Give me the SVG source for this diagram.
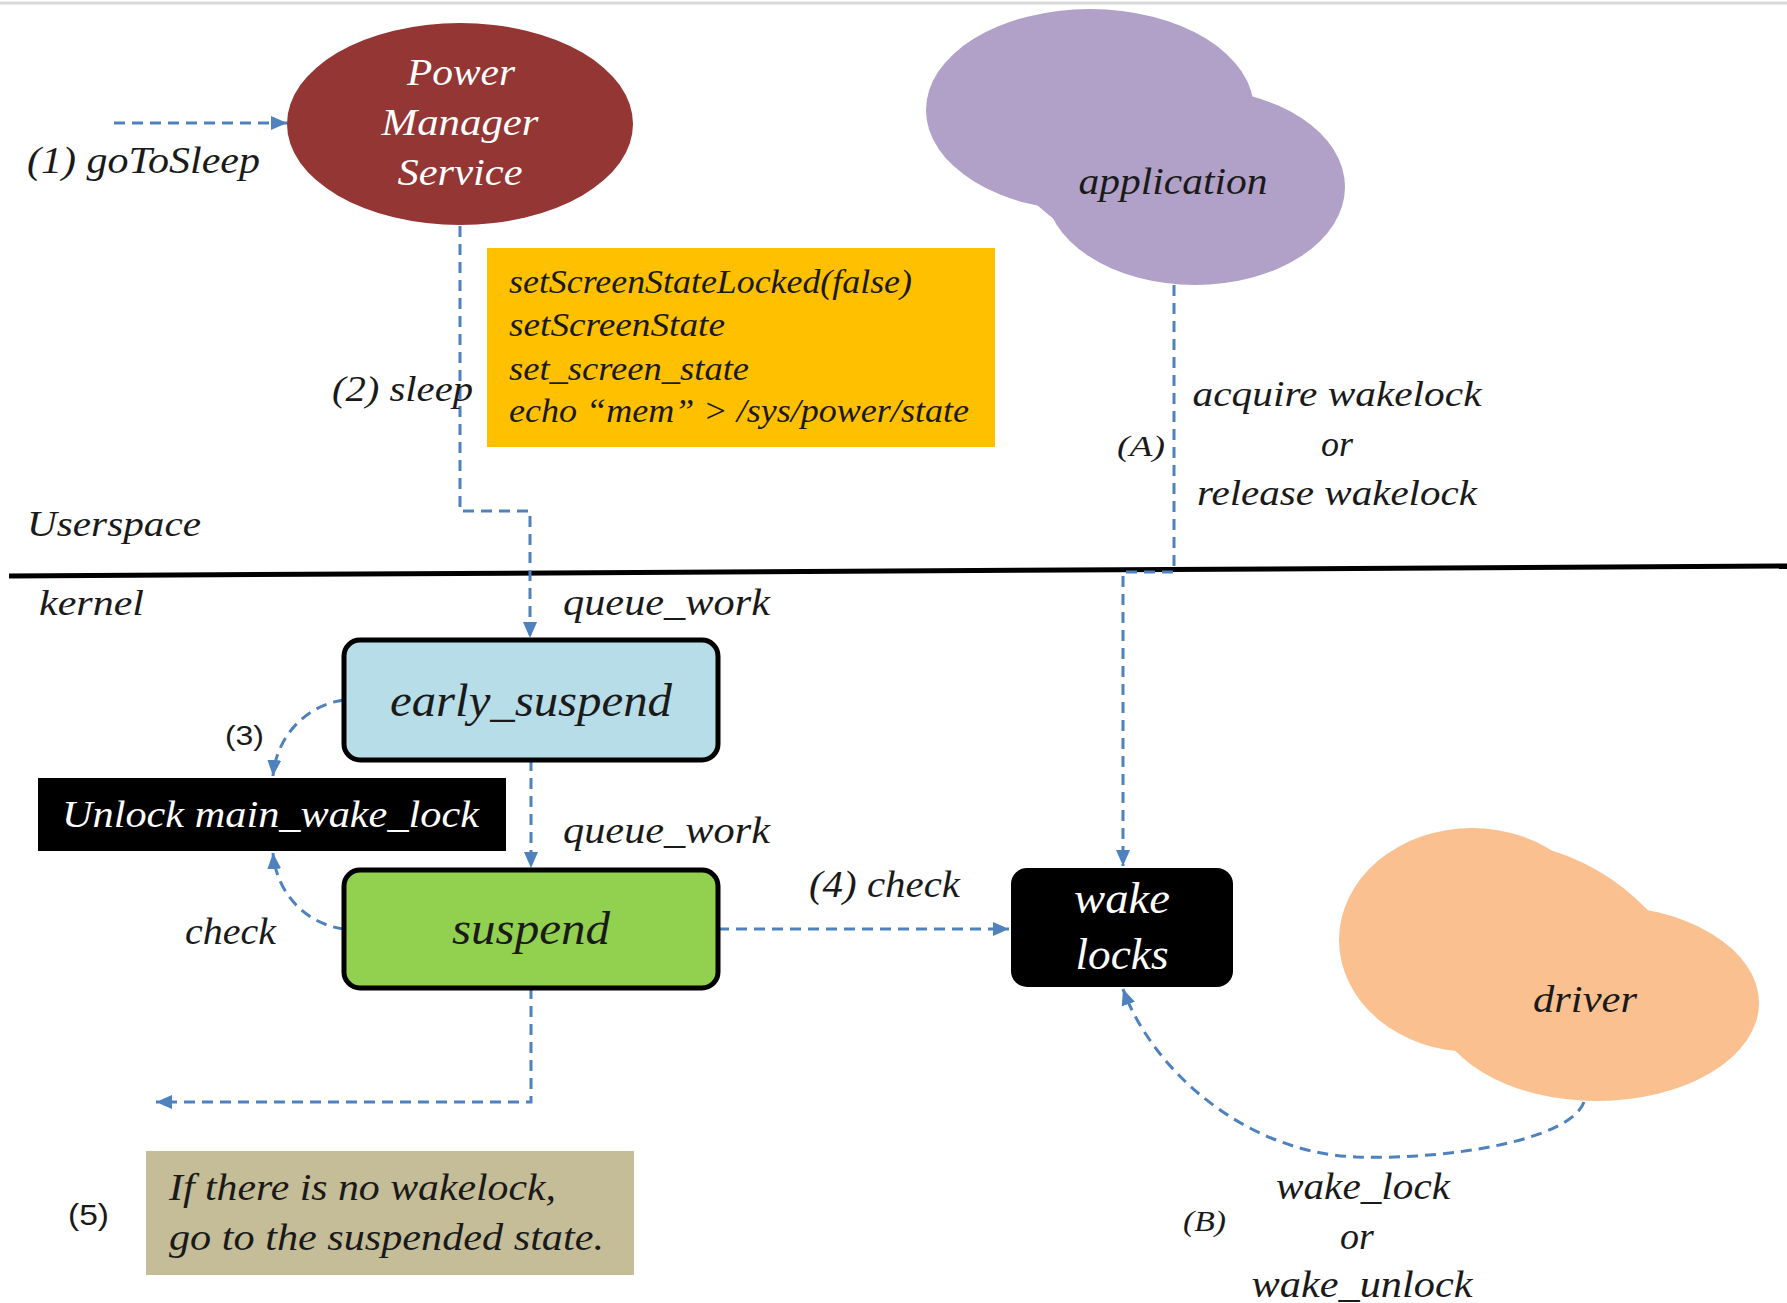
<svg xmlns="http://www.w3.org/2000/svg" width="1787" height="1303" viewBox="0 0 1787 1303">
<style>
.t{font-family:"Liberation Serif","Times New Roman",serif;font-style:italic;fill:#1a1a1a}
.w{fill:#ffffff}
.c{text-anchor:middle}
.dash{fill:none;stroke:#4F81BD;stroke-width:3;stroke-dasharray:11 7}
.box{stroke:#000;stroke-width:5}
.up{font-family:"Liberation Sans",Arial,sans-serif;font-style:normal;fill:#1a1a1a}
</style>
<defs>
<marker id="ah" markerUnits="userSpaceOnUse" markerWidth="18" markerHeight="18" refX="16" refY="8" orient="auto">
<path d="M0,1 L16,8 L0,15 Z" fill="#4F81BD"/>
</marker>
</defs>
<rect x="0" y="0" width="1787" height="1303" fill="#ffffff"/>
<line x1="0" y1="3" x2="1787" y2="3" stroke="#d8d8d8" stroke-width="3"/>

<g id="separator">
<line x1="9" y1="576" x2="1787" y2="566" stroke="#000" stroke-width="5"/>
<text class="t" x="27" y="536" font-size="36" textLength="174" lengthAdjust="spacingAndGlyphs">Userspace</text>
<text class="t" x="39" y="615" font-size="36" textLength="105" lengthAdjust="spacingAndGlyphs">kernel</text>
</g>

<g id="connectors">
<path class="dash" d="M114,123 L287,123" marker-end="url(#ah)"/>
<path class="dash" d="M460,226 L460,511 L530,511 L530,638" marker-end="url(#ah)"/>
<path class="dash" d="M1174,285 L1174,572 L1123,572 L1123,866" marker-end="url(#ah)"/>
<path class="dash" d="M531,760 L531,868" marker-end="url(#ah)"/>
<path class="dash" d="M344,700 C305,705 276,738 273,776" marker-end="url(#ah)"/>
<path class="dash" d="M344,929 C305,924 276,892 273,853" marker-end="url(#ah)"/>
<path class="dash" d="M718,929 L1009,929" marker-end="url(#ah)"/>
<path class="dash" d="M531,988 L531,1102 L156,1102" marker-end="url(#ah)"/>
<path class="dash" d="M1584,1102 C1570,1140 1450,1160 1356,1157 C1240,1152 1150,1065 1123,989" marker-end="url(#ah)"/>
<text class="t" x="27" y="173" font-size="38" textLength="233" lengthAdjust="spacingAndGlyphs">(1) goToSleep</text>
<text class="t" x="332" y="401" font-size="36" textLength="141" lengthAdjust="spacingAndGlyphs">(2) sleep</text>
<text class="t" x="1117" y="456" font-size="30" textLength="48" lengthAdjust="spacingAndGlyphs">(A)</text>
<text class="t c" x="1337" y="406" font-size="36" textLength="289" lengthAdjust="spacingAndGlyphs">acquire wakelock</text>
<text class="t c" x="1337" y="456" font-size="36">or</text>
<text class="t c" x="1337" y="505" font-size="36" textLength="280" lengthAdjust="spacingAndGlyphs">release wakelock</text>
<text class="t" x="563" y="615" font-size="38" textLength="207" lengthAdjust="spacingAndGlyphs">queue_work</text>
<text class="t" x="563" y="843" font-size="38" textLength="207" lengthAdjust="spacingAndGlyphs">queue_work</text>
<text class="up" x="225" y="745" font-size="28" textLength="39" lengthAdjust="spacingAndGlyphs">(3)</text>
<text class="t" x="185" y="944" font-size="38" textLength="91" lengthAdjust="spacingAndGlyphs">check</text>
<text class="t" x="809" y="897" font-size="38" textLength="151" lengthAdjust="spacingAndGlyphs">(4) check</text>
<text class="up" x="68" y="1225" font-size="30" textLength="41" lengthAdjust="spacingAndGlyphs">(5)</text>
<text class="t" x="1183" y="1231" font-size="30" textLength="43" lengthAdjust="spacingAndGlyphs">(B)</text>
<text class="t c" x="1363" y="1199" font-size="38" textLength="174" lengthAdjust="spacingAndGlyphs">wake_lock</text>
<text class="t c" x="1357" y="1249" font-size="38">or</text>
<text class="t c" x="1362" y="1297" font-size="38" textLength="221" lengthAdjust="spacingAndGlyphs">wake_unlock</text>
</g>

<g id="power-manager-service">
<ellipse cx="460" cy="124" rx="173" ry="101" fill="#943634"/>
<text class="t w c" x="461" y="85" font-size="38" textLength="108" lengthAdjust="spacingAndGlyphs">Power</text>
<text class="t w c" x="460" y="135" font-size="38" textLength="157" lengthAdjust="spacingAndGlyphs">Manager</text>
<text class="t w c" x="460" y="185" font-size="38" textLength="125" lengthAdjust="spacingAndGlyphs">Service</text>
</g>

<g id="application">
<ellipse cx="1090" cy="110" rx="164" ry="101" fill="#B1A0C7"/>
<ellipse cx="1195" cy="187" rx="150" ry="98" fill="#B1A0C7"/>
<ellipse cx="1140" cy="150" rx="170" ry="105" fill="#B1A0C7" transform="rotate(28 1140 150)"/>
<text class="t c" x="1173" y="194" font-size="38" textLength="189" lengthAdjust="spacingAndGlyphs">application</text>
</g>

<g id="screen-calls">
<rect x="487" y="248" width="508" height="199" fill="#FFC000"/>
<text class="t" x="509" y="293" font-size="33" textLength="403" lengthAdjust="spacingAndGlyphs">setScreenStateLocked(false)</text>
<text class="t" x="509" y="336" font-size="33" textLength="216" lengthAdjust="spacingAndGlyphs">setScreenState</text>
<text class="t" x="509" y="380" font-size="33" textLength="240" lengthAdjust="spacingAndGlyphs">set_screen_state</text>
<text class="t" x="509" y="422" font-size="33" textLength="460" lengthAdjust="spacingAndGlyphs">echo “mem” &gt; /sys/power/state</text>
</g>

<g id="early-suspend">
<rect class="box" x="344" y="640" width="374" height="120" rx="16" fill="#B7DDE8"/>
<text class="t c" x="531" y="716" font-size="46" textLength="282" lengthAdjust="spacingAndGlyphs">early_suspend</text>
</g>

<g id="unlock-main-wake-lock">
<rect x="38" y="778" width="468" height="73" fill="#000"/>
<text class="t w" x="62" y="827" font-size="38" textLength="417" lengthAdjust="spacingAndGlyphs">Unlock main_wake_lock</text>
</g>

<g id="suspend">
<rect class="box" x="344" y="870" width="374" height="118" rx="16" fill="#92D050"/>
<text class="t c" x="531" y="944" font-size="46" textLength="158" lengthAdjust="spacingAndGlyphs">suspend</text>
</g>

<g id="wake-locks">
<rect x="1011" y="868" width="222" height="119" rx="16" fill="#000"/>
<text class="t w c" x="1122" y="913" font-size="44" textLength="96" lengthAdjust="spacingAndGlyphs">wake</text>
<text class="t w c" x="1122" y="969" font-size="44" textLength="93" lengthAdjust="spacingAndGlyphs">locks</text>
</g>

<g id="driver">
<ellipse cx="1472" cy="940" rx="133" ry="112" fill="#FAC090"/>
<ellipse cx="1597" cy="1003" rx="162" ry="98" fill="#FAC090"/>
<ellipse cx="1540" cy="970" rx="160" ry="115" fill="#FAC090" transform="rotate(30 1540 970)"/>
<text class="t c" x="1585" y="1012" font-size="38" textLength="104" lengthAdjust="spacingAndGlyphs">driver</text>
</g>

<g id="suspended-note">
<rect x="146" y="1151" width="488" height="124" fill="#C4BD97"/>
<text class="t" x="169" y="1200" font-size="38" textLength="387" lengthAdjust="spacingAndGlyphs">If there is no wakelock,</text>
<text class="t" x="169" y="1250" font-size="38" textLength="435" lengthAdjust="spacingAndGlyphs">go to the suspended state.</text>
</g>
</svg>
